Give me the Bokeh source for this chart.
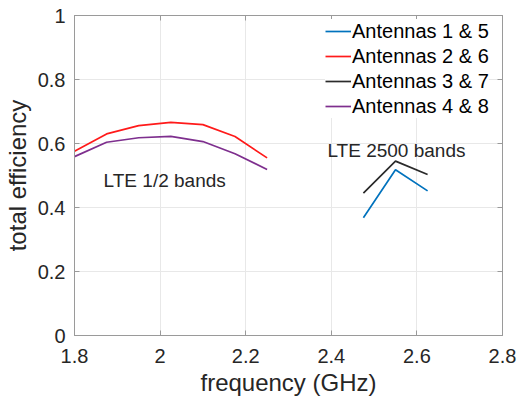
from bokeh.plotting import figure
from bokeh.models import Range1d, FixedTicker, LinearAxis, Legend, LegendItem
from bokeh.core.properties import value
from bokeh.embed import file_html
from bokeh.resources import INLINE

# ---- data ----
freq_low = [1.8, 1.875, 1.95, 2.025, 2.1, 2.175, 2.25]
eff_ant26 = [0.576, 0.630, 0.656, 0.666, 0.659, 0.622, 0.555]
eff_ant48 = [0.559, 0.604, 0.618, 0.622, 0.606, 0.568, 0.519]

freq_high = [2.475, 2.55, 2.625]
eff_ant15 = [0.368, 0.518, 0.452]
eff_ant37 = [0.445, 0.545, 0.503]

x_ticks = [1.8, 2.0, 2.2, 2.4, 2.6, 2.8]
x_tick_labels = ["1.8", "2", "2.2", "2.4", "2.6", "2.8"]
y_ticks = [0, 0.2, 0.4, 0.6, 0.8, 1.0]
y_tick_labels = ["0", "0.2", "0.4", "0.6", "0.8", "1"]

series_names = ["Antennas 1 & 5", "Antennas 2 & 6", "Antennas 3 & 7", "Antennas 4 & 8"]
colors = ["#0072BD", "#FF1A1A", "#2b2b2b", "#7E2F8E"]

annot_text = ["LTE 1/2 bands", "LTE 2500 bands"]
annot_x = [1.868, 2.391]
annot_y = [0.485, 0.578]

FONT = "Liberation Sans"
TXT = "#262626"
BOX = "#9a9a9a"

p = figure(width=518, height=402, output_backend="svg", toolbar_location=None,
           x_range=Range1d(1.8, 2.8), y_range=Range1d(0, 1),
           min_border_left=74, min_border_right=16, min_border_top=15, min_border_bottom=67)
p.background_fill_color = "white"
p.border_fill_color = "white"
p.outline_line_color = BOX
p.outline_line_width = 1

for ax, ticks, labels in [(p.xaxis[0], x_ticks, x_tick_labels), (p.yaxis[0], y_ticks, y_tick_labels)]:
    ax.ticker = FixedTicker(ticks=ticks)
    ax.major_label_overrides = {t: l for t, l in zip(ticks, labels)}
    ax.major_tick_in = 5
    ax.major_tick_out = 0
    ax.minor_tick_line_color = None
    ax.major_tick_line_color = BOX
    ax.axis_line_color = BOX
    ax.major_label_text_font = FONT
    ax.major_label_text_font_size = "20px"
    ax.major_label_text_color = TXT
    ax.axis_label_text_font = FONT
    ax.axis_label_text_font_size = "24px"
    ax.axis_label_text_font_style = "normal"
    ax.axis_label_text_color = TXT

p.xaxis.axis_label = "frequency (GHz)"
p.yaxis.axis_label = "total efficiency"
p.xaxis.major_label_standoff = 13
p.xaxis.axis_label_standoff = 3
p.yaxis.major_label_standoff = 9
p.yaxis.axis_label_standoff = 4

for loc, ticks in [("above", x_ticks), ("right", y_ticks)]:
    ax = LinearAxis(ticker=FixedTicker(ticks=ticks), major_tick_in=5, major_tick_out=0,
                    major_label_text_font_size="1px", major_label_text_color=None,
                    major_label_standoff=0,
                    minor_tick_line_color=None, major_tick_line_color=BOX,
                    axis_line_color=BOX)
    p.add_layout(ax, loc)

p.xgrid.ticker = FixedTicker(ticks=x_ticks)
p.ygrid.ticker = FixedTicker(ticks=y_ticks)
p.grid.grid_line_color = "#e8e8e8"
p.grid.grid_line_width = 1

lw = 1.7
r15 = p.line(freq_high, eff_ant15, line_color=colors[0], line_width=lw)
r26 = p.line(freq_low, eff_ant26, line_color=colors[1], line_width=lw)
r37 = p.line(freq_high, eff_ant37, line_color=colors[2], line_width=lw)
r48 = p.line(freq_low, eff_ant48, line_color=colors[3], line_width=lw)

p.text(x=annot_x, y=annot_y, text=annot_text, text_font=value(FONT), text_font_size="19px",
       text_color=TXT, text_align="left", text_baseline="middle")

legend = Legend(items=[LegendItem(label=n, renderers=[r]) for n, r in zip(series_names, [r15, r26, r37, r48])],
                location=(251, 217), border_line_color=None, background_fill_color="white",
                background_fill_alpha=1.0, label_text_font=FONT, label_text_font_size="20px",
                label_text_color="black", glyph_width=26, glyph_height=24, label_height=24,
                label_standoff=1, spacing=1, padding=5, margin=0)
p.add_layout(legend, "center")

open("out.html", "w").write(file_html(p, INLINE))
